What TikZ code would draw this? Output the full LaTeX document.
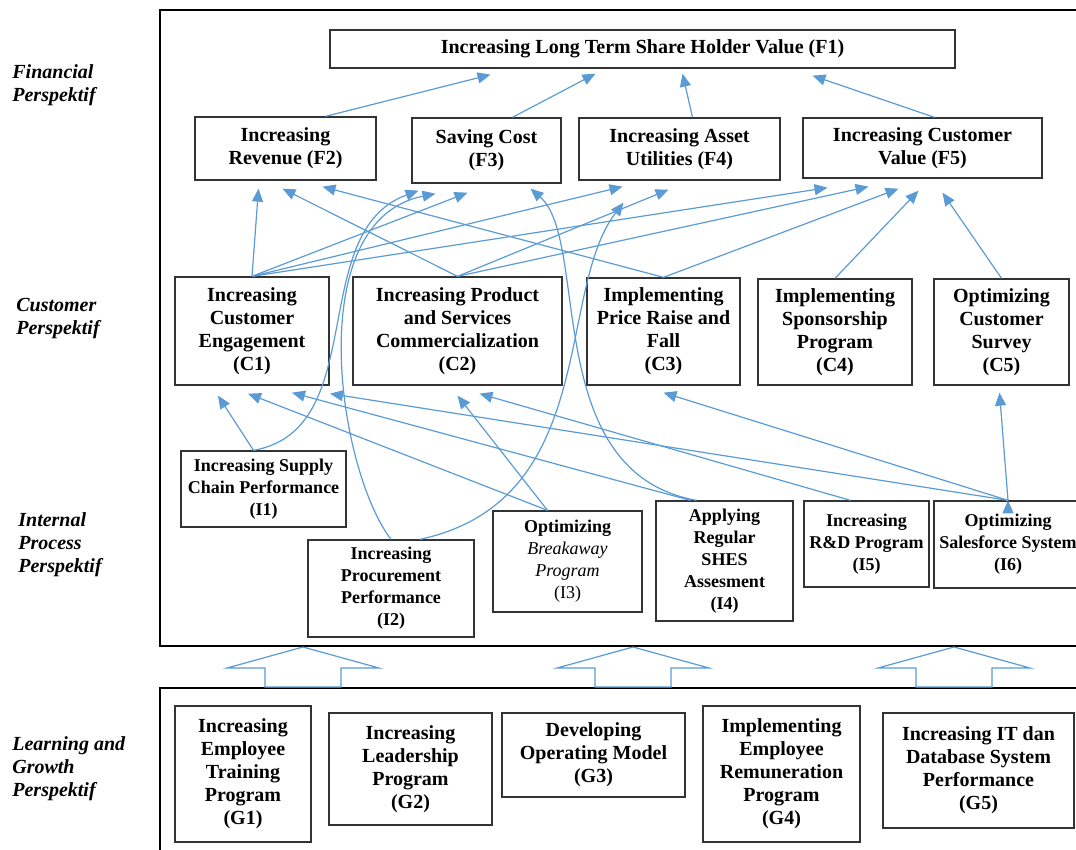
\documentclass[tikz,border=0pt]{standalone}
\usepackage{fontspec}
\setmainfont{Liberation Serif}
\usetikzlibrary{arrows.meta, calc}
\definecolor{linkblue}{RGB}{91,155,213}
\tikzset{every picture/.style={line width=0.75pt}}

\begin{document}
\begin{tikzpicture}[x=1pt, y=-1pt,
    box/.style={draw=black!80, line width=1.3pt, inner sep=0pt, align=center,
        font=\fontsize{20}{23}\selectfont\bfseries},
    cbox/.style={box, text depth=9pt},
    ibox/.style={box, font=\fontsize{18}{22}\selectfont\bfseries},
    persp/.style={anchor=west, align=left, inner sep=0pt,
        font=\fontsize{20}{23}\selectfont\bfseries\itshape},
    link/.style={color=linkblue, line width=1.2pt, -{Triangle[length=13pt,width=11pt]}},
    frame/.style={draw=black, line width=2.6pt},
    bigarrow/.style={draw=linkblue, line width=1.2pt, fill=white}]
    \useasboundingbox (0,0) rectangle (1076,849);

    % frames
    \draw[frame] (1090,10) -| (160,646) -- (1090,646);
    \draw[frame] (1090,688) -| (160,860);

    % perspectives
    \node[persp] (lblF) at (12,85) {Financial\\Perspektif};
    \node[persp] (lblC) at (16,319) {Customer\\Perspektif};
    \node[persp] (lblI) at (18,545) {Internal\\Process\\Perspektif};
    \node[persp] (lblG) at (12,769) {Learning and\\Growth\\Perspektif};

    % financial
    \node[box, minimum width=625, minimum height=38] (F1) at (642.5,49) {Increasing Long Term Share Holder Value (F1)};
    \node[box, minimum width=181, minimum height=63] (F2) at (285.5,148.5) {Increasing\\Revenue (F2)};
    \node[box, minimum width=149, minimum height=65] (F3) at (486.5,150.5) {Saving Cost\\(F3)};
    \node[box, minimum width=201, minimum height=62] (F4) at (679.5,149) {Increasing Asset\\Utilities (F4)};
    \node[box, minimum width=239, minimum height=60] (F5) at (922.5,148) {Increasing Customer\\Value (F5)};

    % customer
    \node[box, minimum width=154, minimum height=108] (C1) at (252,331) {Increasing\\Customer\\Engagement\\(C1)};
    \node[box, minimum width=209, minimum height=108] (C2) at (457.5,331) {Increasing Product\\and Services\\Commercialization\\(C2)};
    \node[box, minimum width=153, minimum height=107] (C3) at (663.5,331.5) {Implementing\\Price Raise and\\Fall\\(C3)};
    \node[box, minimum width=154, minimum height=106] (C4) at (835,332) {Implementing\\Sponsorship\\Program\\(C4)};
    \node[box, minimum width=135, minimum height=106] (C5) at (1001.5,332) {Optimizing\\Customer\\Survey\\(C5)};

    % internal process
    \node[ibox, minimum width=165, minimum height=76] (I1) at (263.5,489) {Increasing Supply\\Chain Performance\\(I1)};
    \node[ibox, minimum width=166, minimum height=97] (I2) at (391,588.5) {Increasing\\Procurement\\Performance\\(I2)};
    \node[ibox, minimum width=149, minimum height=101] (I3) at (567.5,561.5) {Optimizing\\{\normalfont\itshape Breakaway}\\{\normalfont\itshape Program}\\{\normalfont (I3)}};
    \node[ibox, minimum width=137, minimum height=120] (I4) at (724.5,561) {Applying\\Regular\\SHES\\Assesment\\(I4)};
    \node[ibox, minimum width=125, minimum height=86] (I5) at (866.5,544) {Increasing\\R\&D Program\\(I5)};
    \node[ibox, minimum width=148, minimum height=87] (I6) at (1008,544.5) {Optimizing\\Salesforce System\\(I6)};

    % learning and growth
    \node[box, minimum width=136, minimum height=136] (G1) at (243,774) {Increasing\\Employee\\Training\\Program\\(G1)};
    \node[box, minimum width=163, minimum height=112] (G2) at (410.5,769) {Increasing\\Leadership\\Program\\(G2)};
    \node[box, minimum width=183, minimum height=84] (G3) at (593.5,755) {Developing\\Operating Model\\(G3)};
    \node[box, minimum width=157, minimum height=136] (G4) at (781.5,774) {Implementing\\Employee\\Remuneration\\Program\\(G4)};
    \node[box, minimum width=191, minimum height=115] (G5) at (978.5,770.5) {Increasing IT dan\\Database System\\Performance\\(G5)};

    % hollow arrows between the frames
    \foreach \ax in {303,633,954}
        \draw[bigarrow] (\ax,647) -- (\ax+76,668) -- (\ax+38,668) -- (\ax+38,687)
            -- (\ax-38,687) -- (\ax-38,668) -- (\ax-76,668) -- cycle;

    \draw[link]
        ($(F2.north)+(40,0)$) edge ($(F1.south)+(-152,6)$)
        ($(F3.north)+(26,0)$) edge ($(F1.south)+(-47,5)$)
        ($(F4.north)+(13,0)$) edge ($(F1.south)+(40,5)$)
        ($(F5.north)+(12,0)$) edge ($(F1.south)+(170,7)$)
        (C1.north) edge ($(F2.south)+(-27,8)$)
        (C1.north) edge ($(F3.south)+(-19,9)$)
        (C1.north) edge ($(F4.south)+(-57,6)$)
        (C1.north) edge ($(F5.south)+(-95,9)$)
        (C2.north) edge ($(F2.south)+(-3,8)$)
        (C2.north) edge ($(F4.south)+(-11,9)$)
        (C2.north) edge ($(F5.south)+(-54,8)$)
        (C3.north) edge ($(F2.south)+(37,6)$)
        (C3.north) edge ($(F5.south)+(-24,10)$)
        (C4.north) edge ($(F5.south)+(-4,12)$)
        (C5.north) edge ($(F5.south)+(20,14)$)
        ($(I1.north)+(-10,0)$) edge ($(C1.south)+(-34,10)$)
        ($(I3.north)+(-20,0)$) edge ($(C1.south)+(-4,8)$)
        ($(I3.north)+(-20,0)$) edge ($(C2.south)+(0,10)$)
        ($(I4.north)+(-34,0)$) edge ($(C1.south)+(40,7)$)
        ($(I5.north)+(-16,0)$) edge ($(C2.south)+(22,8)$)
        (I6.north) edge ($(C1.south)+(78,8)$)
        (I6.north) edge ($(C3.south)+(0,7)$)
        (I6.north) edge ($(C5.south)+(-2,7)$);

    % curved links
    \draw[link] ($(I1.north)+(-10,0)$) .. controls +(118,-21) and +(-113,41) .. ($(F3.south)+(-68,7)$);
    \draw[link] (I2.north) .. controls +(-53,-69) and +(-135,27) .. ($(F3.south)+(-51,10)$);
    \draw[link] ($(I2.north)+(29,0)$) .. controls +(180,-39) and +(-68,88) .. ($(F4.south)+(-56,22)$);
    \draw[link] ($(I4.north)+(-28,0)$) .. controls +(-157,-28) and +(60,52) .. ($(F3.south)+(44,5)$);
\end{tikzpicture}
\end{document}
